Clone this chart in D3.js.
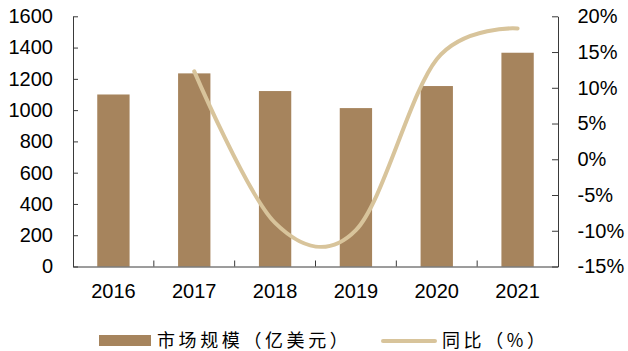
<!DOCTYPE html>
<html>
<head>
<meta charset="utf-8">
<script src="https://cdn.jsdelivr.net/npm/d3@7"></script>
<style>
  html, body { margin: 0; padding: 0; background: #fff; }
  svg { display: block; font-family: "Liberation Sans", Arial, sans-serif; }
</style>
</head>
<body>
<svg id="chart" width="628" height="351"></svg>
<script>
// Market size (100M USD) and year-over-year growth (%)
const years = ["2016", "2017", "2018", "2019", "2020", "2021"];
const marketSize = [1100, 1235, 1122, 1013, 1154, 1367];
const growth = [null, 12.3, -8.9, -9.9, 14.0, 18.3];
const leftTicks = [0, 200, 400, 600, 800, 1000, 1200, 1400, 1600];
const rightTicks = [-15, -10, -5, 0, 5, 10, 15, 20];
const legendLabels = ["市场规模（亿美元）", "同比（%）"];

const barColor = "#a6845d";
const lineColor = "#d8c49b";
const axisColor = "#3a3a3a";

const svg = d3.select("#chart");
const plot = { left: 73, right: 558, top: 16.3, bottom: 266.5 };

const x = d3.scaleBand().domain(years).range([plot.left, plot.right]).paddingInner(0.6).paddingOuter(0.3);
const xOuter = d3.scaleBand().domain(years).range([plot.left, plot.right]);
const yL = d3.scaleLinear().domain([0, 1600]).range([plot.bottom, plot.top]);
const yR = d3.scaleLinear().domain([-15, 20]).range([plot.bottom, plot.top]);

// Bars
svg.append("g").selectAll("rect").data(years).join("rect")
  .attr("x", (d) => x(d))
  .attr("width", x.bandwidth())
  .attr("y", (d, i) => yL(marketSize[i]))
  .attr("height", (d, i) => yL(0) - yL(marketSize[i]))
  .attr("fill", barColor);

// Growth line (smoothed)
const pts = years.map((d, i) => [xOuter(d) + xOuter.bandwidth() / 2, growth[i]]).filter((p) => p[1] !== null);
svg.append("path")
  .datum(pts)
  .attr("fill", "none")
  .attr("stroke", lineColor)
  .attr("stroke-width", 4)
  .attr("stroke-linecap", "round")
  .attr("d", d3.line().x((p) => p[0]).y((p) => yR(p[1])).curve(d3.curveCatmullRom.alpha(0)));

// Axes
const axisFont = (g) => {
  g.selectAll("text").attr("font-size", 20).attr("fill", "#000").attr("font-family", "'Liberation Sans', Arial, sans-serif");
  g.selectAll("line, path").attr("stroke", axisColor);
};

svg.append("g")
  .attr("transform", `translate(${plot.left},0)`)
  .call(d3.axisLeft(yL).tickValues(leftTicks).tickFormat(d3.format("d")).tickSizeInner(-5).tickSizeOuter(0).tickPadding(20))
  .call(axisFont);

svg.append("g")
  .attr("transform", `translate(${plot.right},0)`)
  .call(d3.axisRight(yR).tickValues(rightTicks).tickFormat((d) => d + "%").tickSizeInner(-6).tickSizeOuter(0).tickPadding(19.5))
  .call(axisFont);

svg.append("g")
  .attr("transform", `translate(0,${plot.bottom})`)
  .call(d3.axisBottom(xOuter).tickSize(0).tickPadding(17).tickSizeOuter(0))
  .call(axisFont);

// Category boundary ticks pointing up
svg.append("g").selectAll("line").data(years.slice(1)).join("line")
  .attr("x1", (d) => xOuter(d)).attr("x2", (d) => xOuter(d))
  .attr("y1", plot.bottom).attr("y2", plot.bottom - 6)
  .attr("stroke", axisColor);

// Legend
const legend = svg.append("g").attr("font-family", "'Noto Sans CJK SC', sans-serif").attr("font-size", 18);
legend.append("rect").attr("x", 99).attr("y", 335).attr("width", 52).attr("height", 11).attr("fill", barColor);
legend.append("text").attr("x", 157).attr("y", 347).attr("letter-spacing", 3.6).text(legendLabels[0]);
legend.append("line").attr("x1", 383).attr("x2", 435).attr("y1", 341).attr("y2", 341)
  .attr("stroke", lineColor).attr("stroke-width", 4).attr("stroke-linecap", "round");
legend.append("text").attr("x", 442).attr("y", 347).attr("letter-spacing", 3.6).text(legendLabels[1]);
</script>
</body>
</html>
